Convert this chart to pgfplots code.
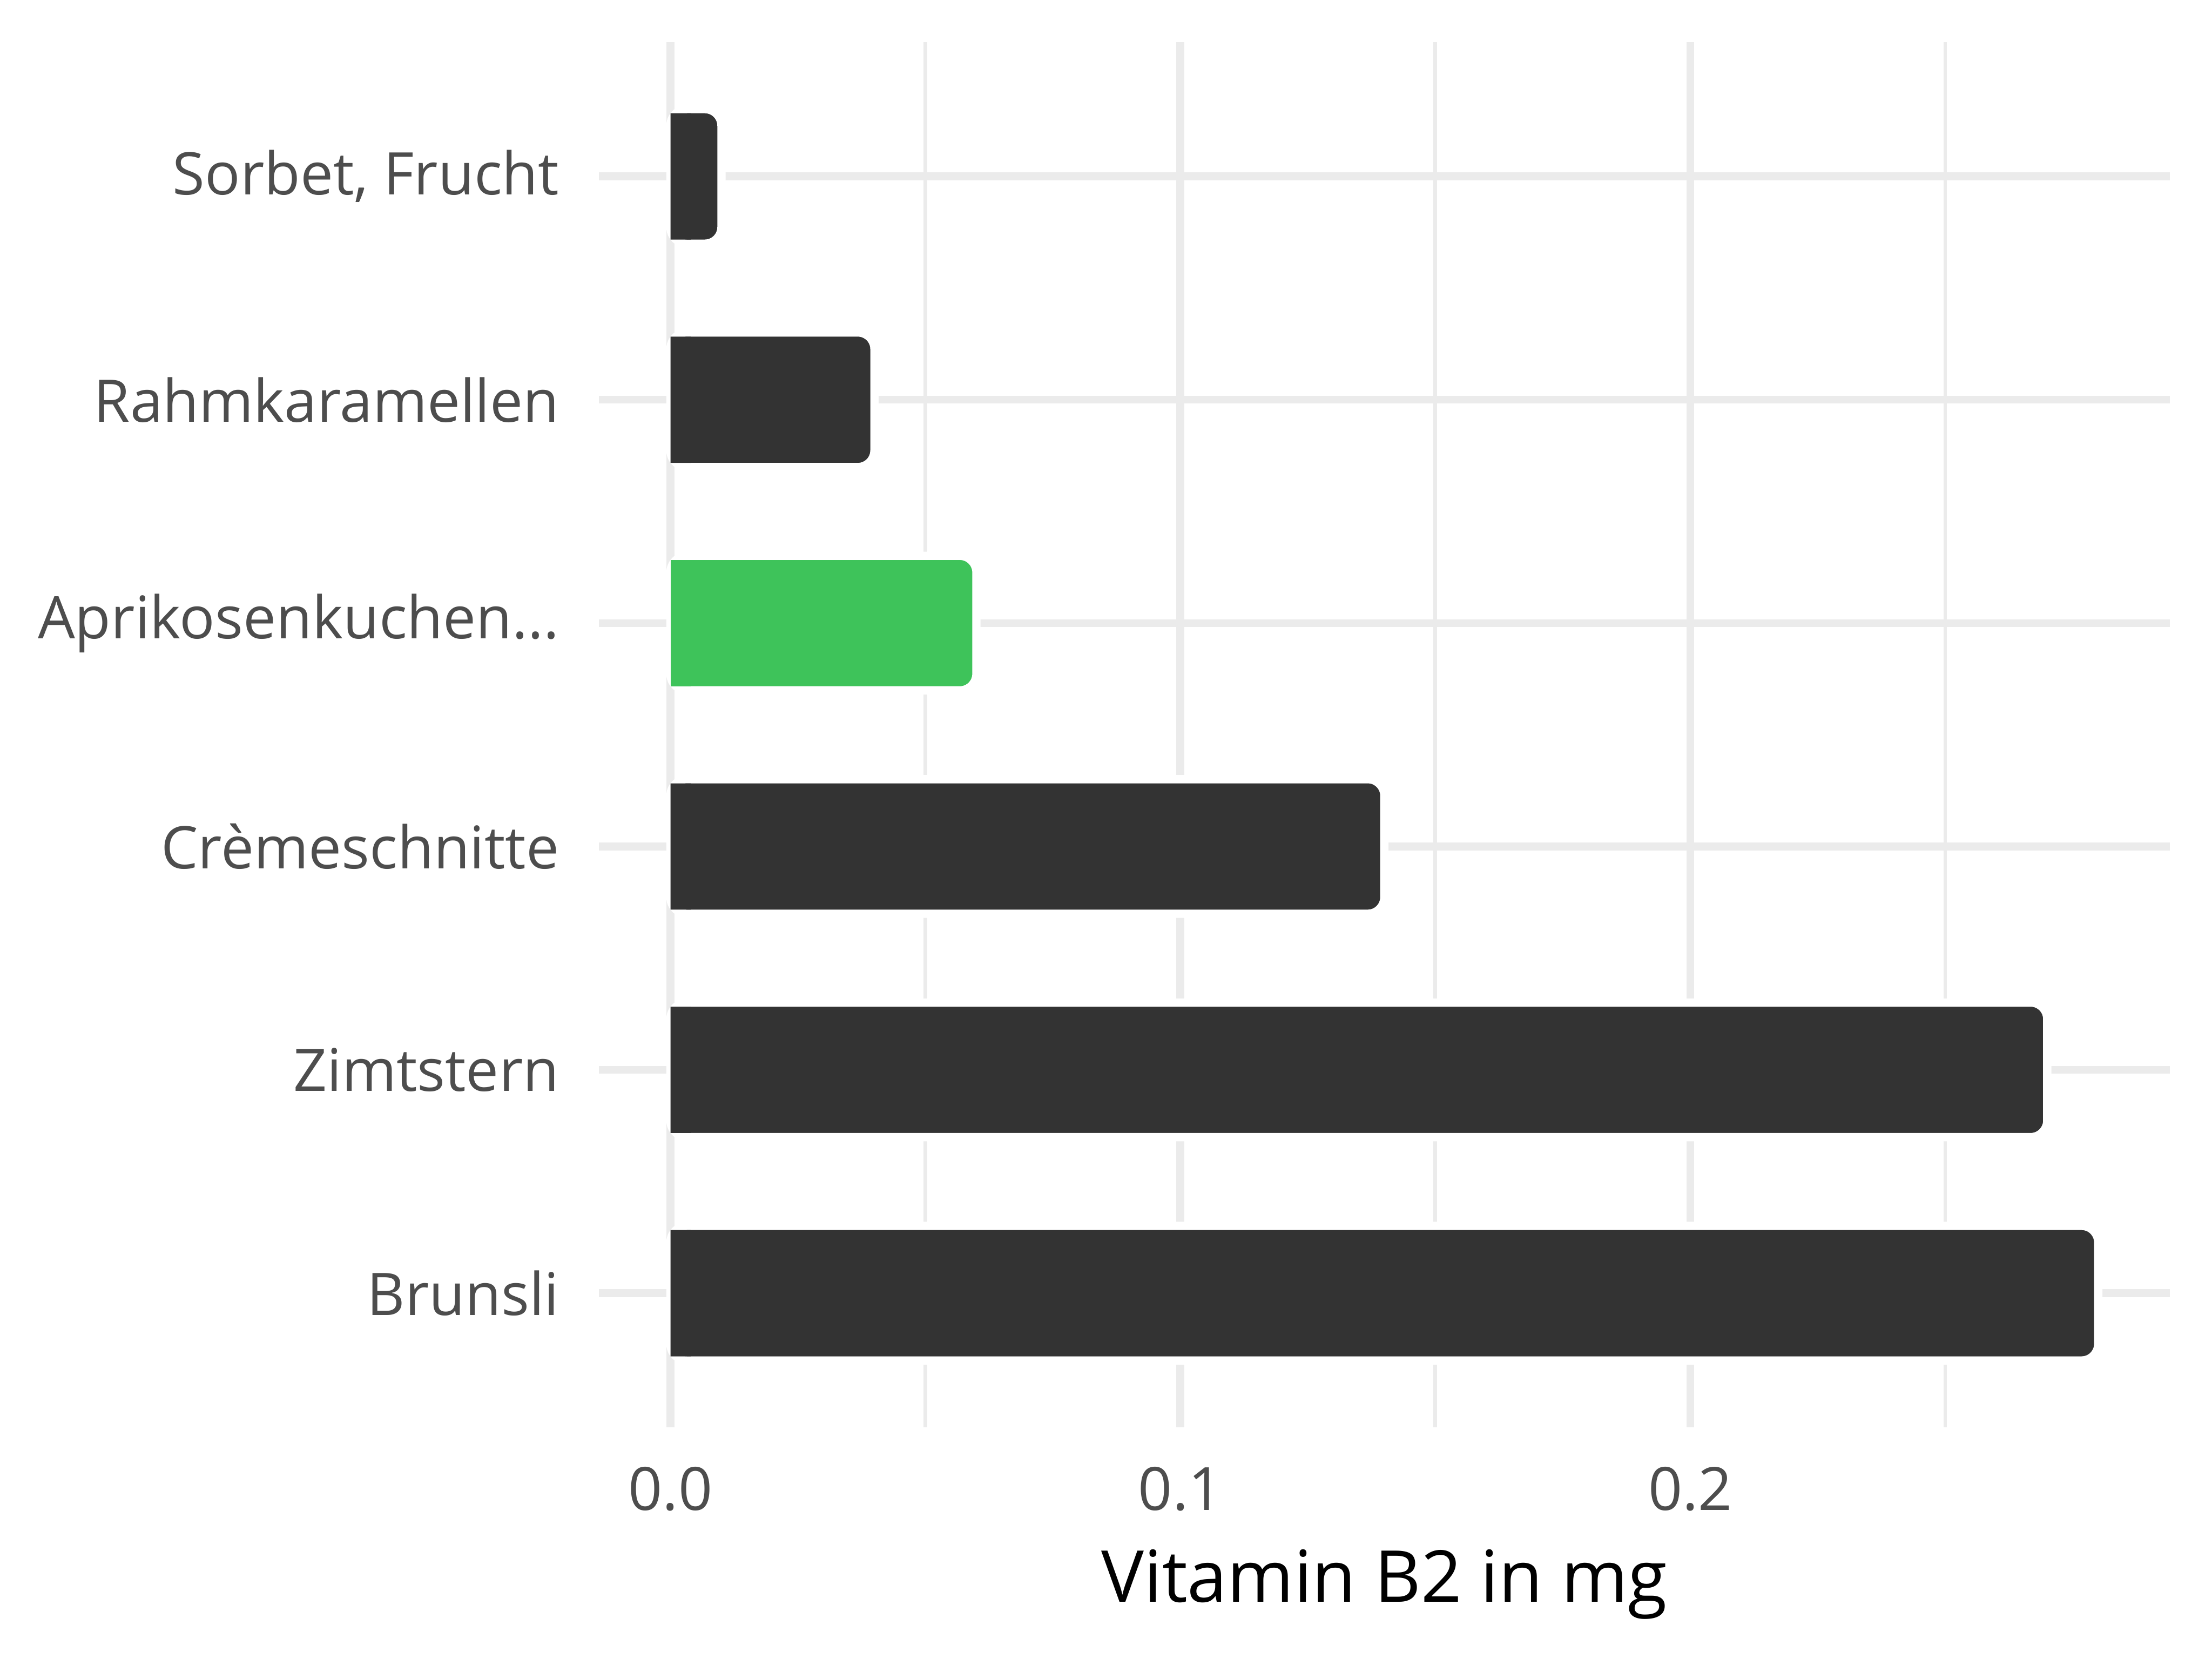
\documentclass[border=0pt]{standalone}
\usepackage{fontspec}
\setmainfont{Open Sans}
\usepackage{pgfplots}
\usepackage{pgfplotstable}
\pgfplotsset{compat=1.18}

\definecolor{bardark}{HTML}{333333}
\definecolor{bargreen}{HTML}{3EC35A}
\definecolor{gridgrey}{HTML}{EBEBEB}
\definecolor{ticktext}{HTML}{4D4D4D}
\newcommand\threedots{...}

% category position, value in mg
\pgfplotstableread{
pos val
1 0.28
2 0.27
3 0.14
5 0.04
6 0.01
}\darkbars
\pgfplotstableread{
pos val
4 0.06
}\greenbars

\begin{document}
\begin{tikzpicture}
\useasboundingbox (-325bp,-125.75bp) rectangle (875bp,774.25bp);
\begin{axis}[
    scale only axis,
    width=852bp, height=751.25bp,
    xmin=-0.014, xmax=0.294,
    ymin=0.4, ymax=6.6,
    axis line style={draw=none},
    major tick length=0pt, minor tick length=0pt,
    xtick={0,0.1,0.2},
    minor xtick={0.05,0.15,0.25},
    ytick={1,2,3,4,5,6},
    yticklabels={Brunsli,Zimtstern,Crèmeschnitte,{Aprikosenkuchen\threedots},Rahmkaramellen,{Sorbet, Frucht}},
    xmajorgrids, xminorgrids, ymajorgrids,
    major grid style={gridgrey, line width=4.25bp},
    minor grid style={gridgrey, line width=2bp},
    /pgf/number format/assume math mode=true,
    xticklabel={\pgfmathprintnumber[fixed,fixed zerofill,precision=1]{\tick}},
    ticklabel style={text=ticktext, inner sep=0pt},
    xticklabel style={font=\fontsize{32.5}{39}\selectfont, anchor=north, yshift=-21.5bp},
    yticklabel style={font=\fontsize{32}{38}\selectfont, anchor=east, xshift=-21.5bp},
    xlabel={Vitamin B2 in mg},
    xlabel style={at={(axis description cs:0.5,0)}, anchor=north, yshift=-66bp,
        inner sep=0pt, font=\fontsize{39}{47}\selectfont, text=black},
    every axis plot/.append style={xbar, bar shift=0pt},
]
% white halo round the bars
\addplot[bar width=73bp, fill=white, draw=white, line width=4bp, rounded corners=9bp]
    table[x=val, y=pos] {\darkbars};
\addplot[bar width=73bp, fill=white, draw=white, line width=4bp, rounded corners=9bp]
    table[x=val, y=pos] {\greenbars};
\draw[gridgrey, line width=4.25bp] (axis cs:0,0.4) -- (axis cs:0,6.6);
% bars: rounded right end, square left end
\addplot[bar width=73bp, fill=bardark, draw=white, line width=4.5bp, rounded corners=9bp]
    table[x=val, y=pos] {\darkbars};
\addplot[bar width=68.5bp, fill=bardark, draw=none]
    table[x expr={min(\thisrow{val},0.004)}, y=pos] {\darkbars};
\addplot[bar width=73bp, fill=bargreen, draw=white, line width=4.5bp, rounded corners=9bp]
    table[x=val, y=pos] {\greenbars};
\addplot[bar width=68.5bp, fill=bargreen, draw=none]
    table[x expr={min(\thisrow{val},0.004)}, y=pos] {\greenbars};
\end{axis}
\end{tikzpicture}
\end{document}
